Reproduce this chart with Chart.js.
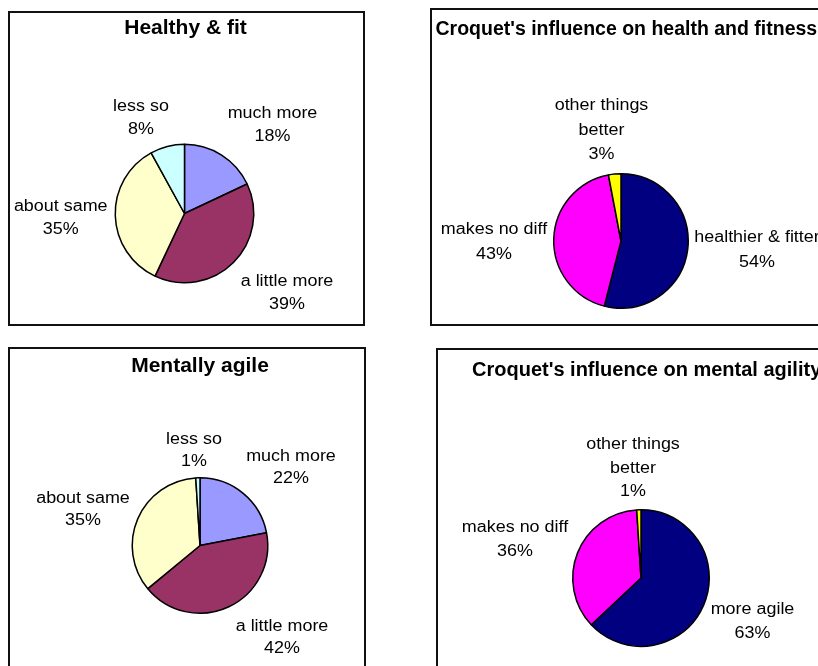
<!DOCTYPE html>
<html lang="en">
<head>
    <meta charset="UTF-8">
    <title>Croquet survey - health and agility</title>
    <script src="https://cdn.jsdelivr.net/npm/chart.js"></script>
    <style>
        body { margin: 0; background: #fff; width: 818px; height: 666px; overflow: hidden; position: relative; }
        .panel { position: absolute; border: 2px solid #111; box-sizing: border-box; background: #fff; }
        canvas { position: absolute; left: 0; top: 0; pointer-events: none; }
    </style>
</head>
<body>
<div class="panel" style="left:8px;top:11px;width:357px;height:315px"></div>
<div class="panel" style="left:430px;top:8px;width:420px;height:318px"></div>
<div class="panel" style="left:8px;top:347px;width:358px;height:340px"></div>
<div class="panel" style="left:436px;top:348px;width:420px;height:340px"></div>

<canvas id="c1" width="818" height="666"></canvas>
<canvas id="c2" width="818" height="666"></canvas>
<canvas id="c3" width="818" height="666"></canvas>
<canvas id="c4" width="818" height="666"></canvas>
<script>
// --- data ---
const moreLabels = ['much more', 'a little more', 'about same', 'less so'];
const fitValues = [18, 39, 35, 8];
const agileValues = [22, 42, 35, 1];

const fitInfluenceLabels = ['healthier & fitter', 'makes no diff', ['other things', 'better']];
const fitInfluenceValues = [54, 43, 3];
const agileInfluenceLabels = ['more agile', 'makes no diff', ['other things', 'better']];
const agileInfluenceValues = [63, 36, 1];

const moreColors = ['#9999FF', '#993366', '#FFFFCC', '#CCFFFF'];
const influenceColors = ['#000080', '#FF00FF', '#FFFF00'];

// --- layout (page pixels) ---
const W = 818, H = 666;
const FONT = '"Liberation Sans", Arial, sans-serif';

function drawText(ctx, text, x, y, font, sx, align) {
    ctx.save();
    ctx.font = font;
    ctx.fillStyle = '#000';
    ctx.textAlign = align || 'center';
    ctx.textBaseline = 'middle';
    ctx.translate(x, y);
    ctx.scale(sx, 1);
    ctx.fillText(text, 0, 0);
    ctx.restore();
}

// draws title + outside labels ("name" lines then "NN%")
const pieText = {
    id: 'pieText',
    afterDraw(chart, args, opts) {
        const ctx = chart.ctx;
        const t = opts.title;
        drawText(ctx, t.text, t.x, t.y, 'bold ' + t.size + 'px ' + FONT, 1, t.align);
        const labels = chart.data.labels;
        const values = chart.data.datasets[0].data;
        labels.forEach((lab, i) => {
            const p = opts.pos[i];
            const lines = [].concat(lab, values[i] + '%');
            lines.forEach((ln, k) => {
                drawText(ctx, ln, p[0], p[1] + k * opts.gap, '16px ' + FONT, 1.12);
            });
        });
    }
};

function makePie(id, labels, values, colors, cx, cy, r, title, pos, gap) {
    new Chart(document.getElementById(id), {
        type: 'pie',
        data: {
            labels: labels,
            datasets: [{ data: values, backgroundColor: colors, borderColor: '#000', borderWidth: 1.5 }]
        },
        options: {
            responsive: false,
            animation: false,
            events: [],
            layout: { padding: { left: cx - r, top: cy - r, right: W - cx - r, bottom: H - cy - r } },
            plugins: {
                legend: { display: false },
                tooltip: { enabled: false },
                pieText: { title: title, pos: pos, gap: gap }
            }
        },
        plugins: [pieText]
    });
}

makePie('c1', moreLabels, fitValues, moreColors, 184.5, 213.5, 70,
    { text: 'Healthy & fit', x: 185.5, y: 28.5, size: 21, align: 'center' },
    [[272.5, 114], [287, 282], [60.7, 207], [141, 107]], 23);

makePie('c2', fitInfluenceLabels, fitInfluenceValues, influenceColors, 621, 241, 68,
    { text: "Croquet's influence on health and fitness", x: 435.5, y: 30, size: 19.5, align: 'left' },
    [[757, 238], [494, 230], [601.5, 106]], 24.5);

makePie('c3', moreLabels, agileValues, moreColors, 200, 545.5, 68.5,
    { text: 'Mentally agile', x: 200, y: 366, size: 21, align: 'center' },
    [[291, 457], [282, 627], [83, 499], [194, 440]], 22);

makePie('c4', agileInfluenceLabels, agileInfluenceValues, influenceColors, 641, 578, 69,
    { text: "Croquet's influence on mental agility", x: 472, y: 370, size: 20, align: 'left' },
    [[752.5, 610], [515, 528], [633, 445]], 23.5);
</script>
</body>
</html>
